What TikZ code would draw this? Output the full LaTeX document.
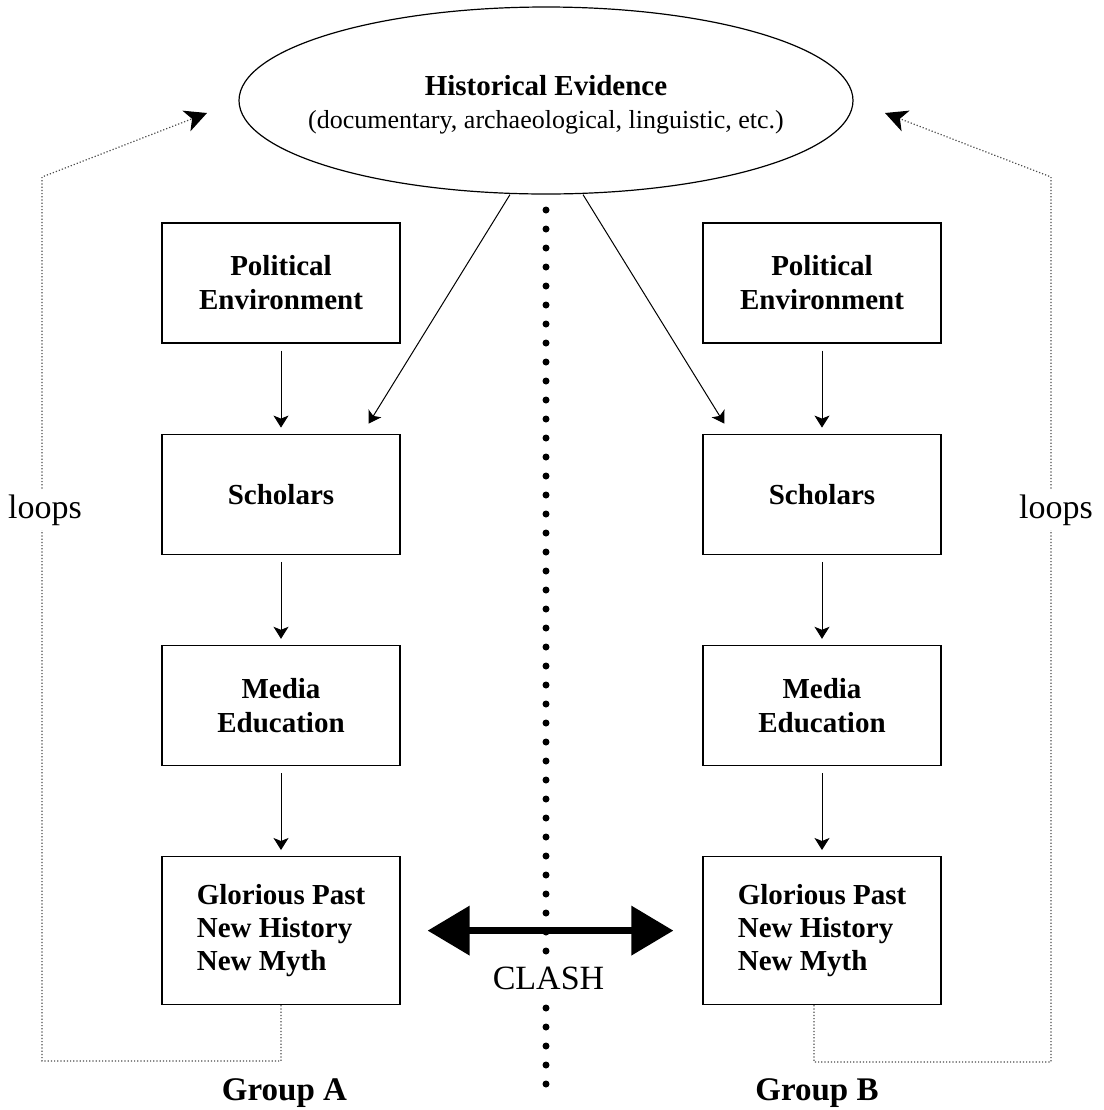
\documentclass[tikz,border=0pt]{standalone}
\usepackage{fontspec}
\setmainfont{Liberation Serif}
\usetikzlibrary{arrows.meta,positioning,shapes.geometric}
\tikzset{
  hbox/.style={rectangle, draw, line width=0.6pt, minimum width=119pt,
               minimum height=60pt, inner sep=2pt, align=center,
               font=\fontsize{14.5}{17}\selectfont\bfseries},
  hglory/.style={hbox, minimum height=74pt, align=left,
                 font=\fontsize{14.5}{16.5}\selectfont\bfseries},
  hevid/.style={ellipse, draw, line width=0.6pt, minimum width=307pt,
                minimum height=93.5pt, inner xsep=-14pt, inner ysep=0pt,
                align=center, font=\fontsize{13}{16.5}\selectfont},
  harrow/.style={-{Stealth[length=6pt,width=7.5pt,inset=1.5pt]}, line width=0.5pt},
  hflow/.style={harrow, shorten <=3.5pt, shorten >=3pt},
  hloop/.style={-{Stealth[length=11pt,width=11pt,inset=3pt,color=black]},
                line width=0.6pt, densely dotted, black!70},
  hclash/.style={{Triangle[length=21pt,width=24pt]}-{Triangle[length=21pt,width=24pt]},
                 line width=3.5pt},
  hdivide/.style={line width=3.5pt, line cap=round, dash pattern=on 0pt off 9.5pt},
  hlabel/.style={font=\fontsize{17}{20}\selectfont, fill=white, inner sep=2.5pt},
  hgroup/.style={font=\fontsize{16.5}{19}\selectfont\bfseries},
}
\begin{document}
\begin{tikzpicture}[x=0.5pt, y=-0.5pt, node distance=45pt]
  \useasboundingbox (0,0) rectangle (1104,1110);
  % dividing line
  \coordinate (divtop) at (546,210);
  \coordinate (divbot) at (546,1102);
  \draw[hdivide] (divtop) -- (divbot);

  \node[hevid] (evid) at (546,100.5)
    {\rule{0pt}{14pt}{\fontsize{14.5}{16.5}\selectfont\bfseries Historical Evidence}\\
     (documentary, archaeological, linguistic, etc.)};

  % group A
  \node[hbox] (polA) at (281,283) {Political\\Environment};
  \node[hbox, below=of polA] (scholA) {Scholars};
  \node[hbox, below=of scholA] (mediaA) {Media\\Education};
  \node[hglory, below=of mediaA] (gloryA) {Glorious Past\\New History\\New Myth};
  % group B
  \node[hbox] (polB) at (822,283) {Political\\Environment};
  \node[hbox, below=of polB] (scholB) {Scholars};
  \node[hbox, below=of scholB] (mediaB) {Media\\Education};
  \node[hglory, below=of mediaB] (gloryB) {Glorious Past\\New History\\New Myth};

  \draw[hflow] (polA) -- (scholA);
  \draw[hflow] (scholA) -- (mediaA);
  \draw[hflow] (mediaA) -- (gloryA);
  \draw[hflow] (polB) -- (scholB);
  \draw[hflow] (scholB) -- (mediaB);
  \draw[hflow] (mediaB) -- (gloryB);
  \draw[harrow] ([xshift=-18pt]evid.south) -- ([xshift=-16pt,yshift=5pt]scholA.north east);
  \draw[harrow] ([xshift=18.5pt]evid.south) -- ([xshift=11pt,yshift=5pt]scholB.north west);

  % feedback loops
  \coordinate (bendA) at (42,1061);
  \coordinate (kneeA) at (42,177);
  \coordinate (tipA)  at (207,113);
  \coordinate (bendB) at (1051,1062);
  \coordinate (kneeB) at (1051,177);
  \coordinate (tipB)  at (885,113);
  \draw[hloop] (gloryA.south) |- (bendA) -- (kneeA) -- (tipA);
  \draw[hloop] ([xshift=-4pt]gloryB.south) |- (bendB) -- (kneeB) -- (tipB);
  \node[hlabel, anchor=base] (loopsA) at (45,518) {loops};
  \node[hlabel, anchor=base] (loopsB) at (1056,518) {loops};

  % clash
  \draw[hclash] ([xshift=13.5pt]gloryA.east) -- ([xshift=-14.5pt]gloryB.west);
  \node[hlabel, anchor=base] (clash) at (548.5,989) {CLASH};

  \node[hgroup, anchor=base] (grpA) at (284.5,1100) {Group A};
  \node[hgroup, anchor=base] (grpB) at (817,1100) {Group B};
\end{tikzpicture}
\end{document}
